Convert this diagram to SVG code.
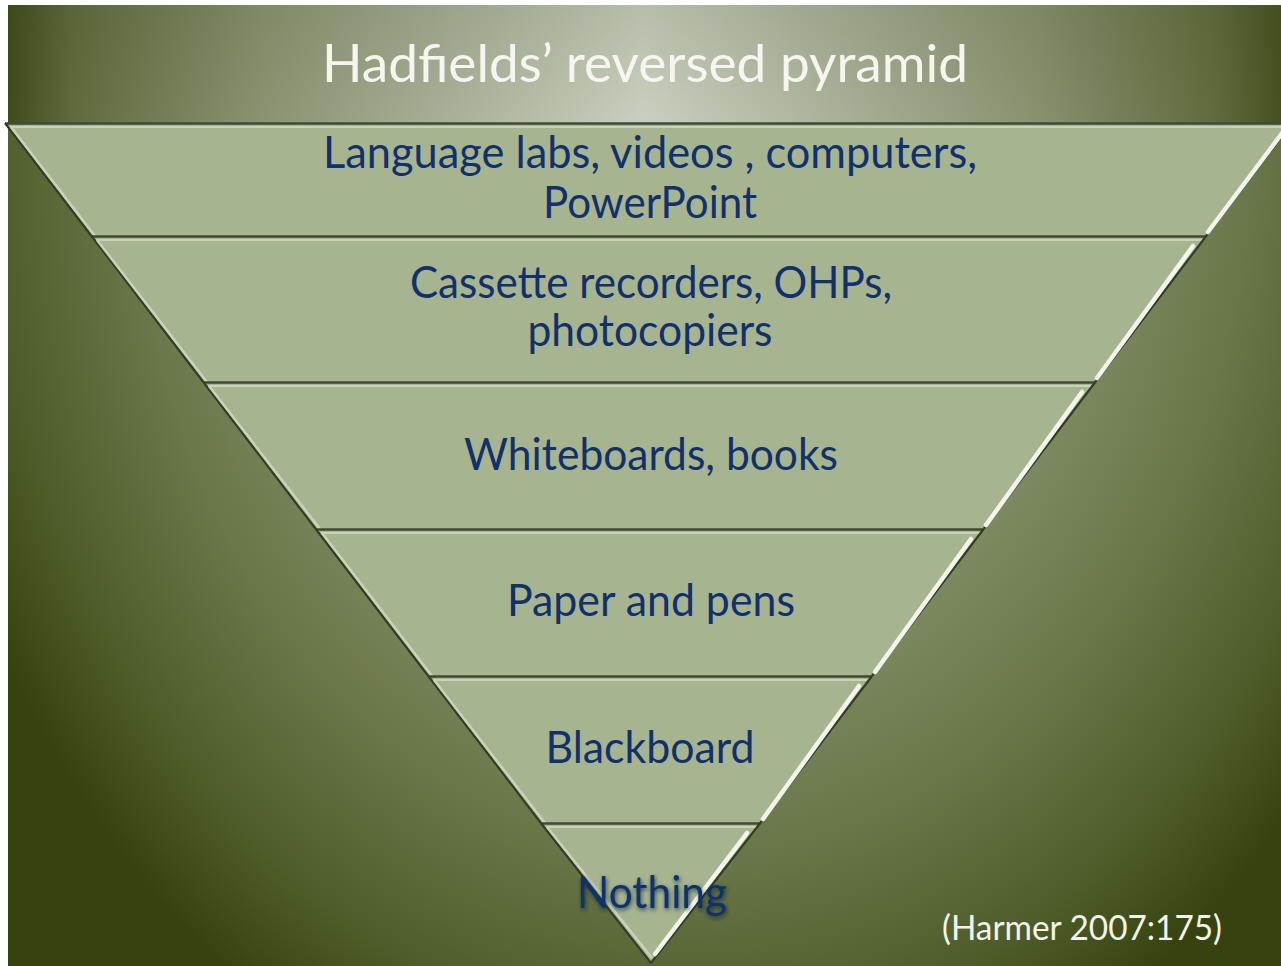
<svg xmlns="http://www.w3.org/2000/svg" width="1281" height="966" viewBox="0 0 1281 966">
<defs>
<radialGradient id="bg" gradientUnits="userSpaceOnUse" cx="690" cy="123" r="800" gradientTransform="translate(690 123) scale(1 1.3) translate(-690 -123)">
<stop offset="0" stop-color="#aab394"/>
<stop offset="0.45" stop-color="#87936c"/>
<stop offset="0.7" stop-color="#6a774a"/>
<stop offset="0.88" stop-color="#4e5c29"/>
<stop offset="1" stop-color="#36430e"/>
</radialGradient>
<linearGradient id="titlebg" x1="0" y1="0" x2="1" y2="0">
<stop offset="0" stop-color="#3f4b1a"/>
<stop offset="0.05" stop-color="#5f6b3e"/>
<stop offset="0.2" stop-color="#8a9472"/>
<stop offset="0.5" stop-color="#c9d0c0"/>
<stop offset="0.8" stop-color="#8a9472"/>
<stop offset="0.95" stop-color="#5f6b3e"/>
<stop offset="1" stop-color="#45521f"/>
</linearGradient>
<linearGradient id="titleshade" x1="0" y1="0" x2="0" y2="1">
<stop offset="0" stop-color="#2f3a10" stop-opacity="0.12"/>
<stop offset="1" stop-color="#2f3a10" stop-opacity="0"/>
</linearGradient>
<filter id="shadow" x="-10%" y="-30%" width="120%" height="160%">
<feGaussianBlur in="SourceAlpha" stdDeviation="2"/>
<feOffset dx="1" dy="2" result="b"/>
<feFlood flood-color="#0a1a30" flood-opacity="0.7"/>
<feComposite in2="b" operator="in"/>
<feMerge><feMergeNode/><feMergeNode in="SourceGraphic"/></feMerge>
</filter>
</defs>
<style>
.band{fill:#a6b590}
.divider{stroke:#3f4a34;stroke-width:2.5;fill:none}
.hilite{stroke:#c8d2ba;stroke-width:2;fill:none}
.edge{stroke:#333d22;stroke-width:2.2;fill:none}
.bevel{stroke:#f3f5ec;stroke-width:4.5;stroke-linecap:round;fill:none}
.lbev{stroke:#c9d3bb;stroke-width:2.5;fill:none}
.t{font-family:Lato,"Open Sans","Liberation Sans",sans-serif;font-size:44px;fill:#11306c;text-anchor:middle}
.title{font-family:Lato,"Open Sans","Liberation Sans",sans-serif;font-size:53px;fill:#f5f6f0;text-anchor:middle}
.cite{font-family:Lato,"Open Sans","Liberation Sans",sans-serif;font-size:34px;fill:#f2f4ec;text-anchor:middle}
</style>
<rect x="0" y="0" width="1281" height="966" fill="#ffffff"/>
<rect x="8" y="5" width="1273" height="961" fill="url(#bg)"/>
<rect x="8" y="5" width="1273" height="118" fill="url(#titlebg)"/>
<rect x="8" y="5" width="1273" height="118" fill="url(#titleshade)"/>
<text class="title" x="645" y="82" textLength="646" lengthAdjust="spacingAndGlyphs">Hadfields’ reversed pyramid</text>

<g id="band1">
<polygon class="band" points="5,123 1292,123 1206.2,236 91.5,236"/>
<line class="divider" x1="5" y1="123.5" x2="1292" y2="123.5"/>
<line class="hilite" x1="8" y1="127" x2="1288" y2="127"/>
<line class="edge" x1="5" y1="123" x2="91.5" y2="236"/>
<line class="lbev" x1="11" y1="127" x2="95" y2="236"/>
<line class="edge" x1="1292" y1="123" x2="1206.2" y2="236"/>
<line class="bevel" x1="1283" y1="132" x2="1208" y2="232"/>
<text class="t" x="650" y="168" textLength="654" lengthAdjust="spacingAndGlyphs">Language labs, videos , computers,</text>
<text class="t" x="650" y="218" textLength="214" lengthAdjust="spacingAndGlyphs">PowerPoint</text>
</g>
<g id="band2">
<polygon class="band" points="91.5,236 1206.2,236 1095.3,382 203.3,382"/>
<line class="divider" x1="91.5" y1="236.5" x2="1206.2" y2="236.5"/>
<line class="hilite" x1="96" y1="240" x2="1202" y2="240"/>
<line class="edge" x1="91.5" y1="236" x2="203.3" y2="382"/>
<line class="lbev" x1="97" y1="240" x2="207" y2="382"/>
<line class="edge" x1="1206.2" y1="236" x2="1095.3" y2="382"/>
<line class="bevel" x1="1193" y1="246" x2="1097" y2="378"/>
<text class="t" x="651" y="298" textLength="482" lengthAdjust="spacingAndGlyphs">Cassette recorders, OHPs,</text>
<text class="t" x="650" y="346" textLength="245" lengthAdjust="spacingAndGlyphs">photocopiers</text>
</g>
<g id="band3">
<polygon class="band" points="203.3,382 1095.3,382 983.6,529 315.8,529"/>
<line class="divider" x1="203.3" y1="382.5" x2="1095.3" y2="382.5"/>
<line class="hilite" x1="208" y1="386" x2="1091" y2="386"/>
<line class="edge" x1="203.3" y1="382" x2="315.8" y2="529"/>
<line class="lbev" x1="209" y1="386" x2="320" y2="529"/>
<line class="edge" x1="1095.3" y1="382" x2="983.6" y2="529"/>
<line class="bevel" x1="1082" y1="392" x2="986" y2="525"/>
<text class="t" x="651" y="470" textLength="374" lengthAdjust="spacingAndGlyphs">Whiteboards, books</text>
</g>
<g id="band4">
<polygon class="band" points="315.8,529 983.6,529 872,676 428.3,676"/>
<line class="divider" x1="315.8" y1="529.5" x2="983.6" y2="529.5"/>
<line class="hilite" x1="320" y1="533" x2="980" y2="533"/>
<line class="edge" x1="315.8" y1="529" x2="428.3" y2="676"/>
<line class="lbev" x1="322" y1="533" x2="432" y2="676"/>
<line class="edge" x1="983.6" y1="529" x2="872" y2="676"/>
<line class="bevel" x1="971" y1="539" x2="875" y2="672"/>
<text class="t" x="651" y="616" textLength="288" lengthAdjust="spacingAndGlyphs">Paper and pens</text>
</g>
<g id="band5">
<polygon class="band" points="428.3,676 872,676 760.3,823 540.9,823"/>
<line class="divider" x1="428.3" y1="676.5" x2="872" y2="676.5"/>
<line class="hilite" x1="433" y1="680" x2="868" y2="680"/>
<line class="edge" x1="428.3" y1="676" x2="540.9" y2="823"/>
<line class="lbev" x1="434" y1="680" x2="545" y2="823"/>
<line class="edge" x1="872" y1="676" x2="760.3" y2="823"/>
<line class="bevel" x1="859" y1="686" x2="763" y2="819"/>
<text class="t" x="650" y="763" textLength="209" lengthAdjust="spacingAndGlyphs">Blackboard</text>
</g>
<g id="band6">
<polygon class="band" points="540.9,823 760.3,823 651,963"/>
<line class="divider" x1="540.9" y1="823.5" x2="760.3" y2="823.5"/>
<line class="hilite" x1="546" y1="827" x2="756" y2="827"/>
<line class="edge" x1="540.9" y1="823" x2="651" y2="963"/>
<line class="lbev" x1="547" y1="827" x2="652" y2="958"/>
<line class="edge" x1="760.3" y1="823" x2="651" y2="963"/>
<line class="bevel" x1="747" y1="833" x2="655" y2="954"/>
<text class="t" x="652" y="908" textLength="150" lengthAdjust="spacingAndGlyphs" filter="url(#shadow)">Nothing</text>
</g>
<text class="cite" x="1082" y="940" textLength="280" lengthAdjust="spacingAndGlyphs">(Harmer 2007:175)</text>
</svg>
